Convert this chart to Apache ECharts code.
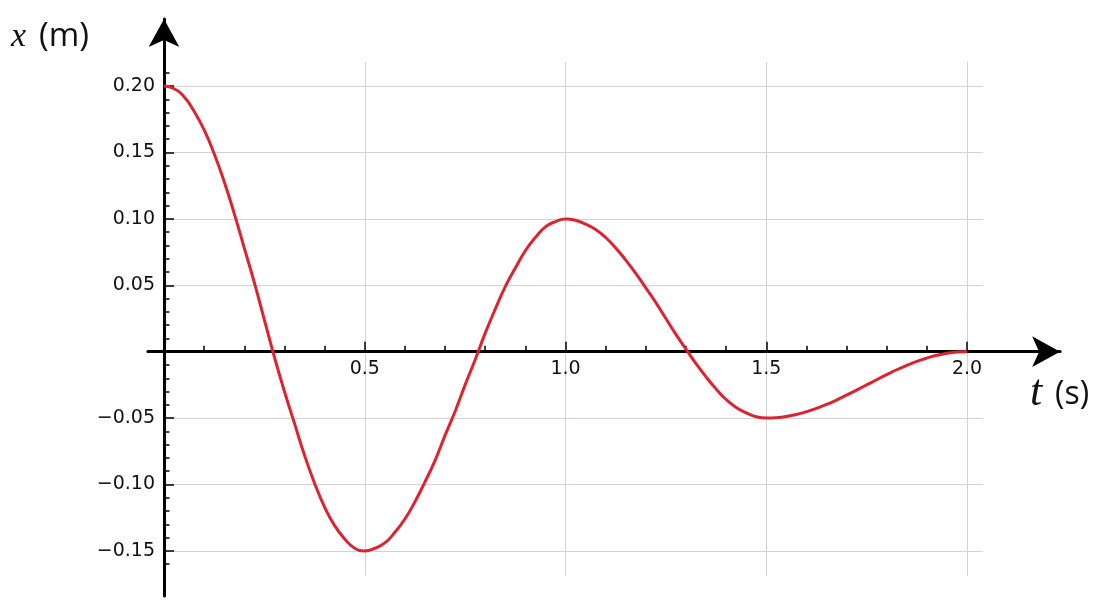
<!DOCTYPE html>
<html>
<head>
<meta charset="utf-8">
<title>x(t)</title>
<script src="https://cdn.jsdelivr.net/npm/echarts@6.0.0/dist/echarts.min.js"></script>
<style>
  html, body { margin: 0; padding: 0; background: #fff; }
  #myChart { width: 1105px; height: 608px; }
</style>
</head>
<body>
<div id="myChart"></div>
<script>
// time (s) and position (m), every 0.025 s
var times = [0, 0.025, 0.05, 0.075, 0.1, 0.125, 0.15, 0.175, 0.2, 0.225,
             0.25, 0.275, 0.3, 0.325, 0.35, 0.375, 0.4, 0.425, 0.45, 0.475,
             0.5, 0.525, 0.55, 0.575, 0.6, 0.625, 0.65, 0.675, 0.7, 0.725,
             0.75, 0.775, 0.8, 0.825, 0.85, 0.875, 0.9, 0.925, 0.95, 0.975,
             1.0, 1.025, 1.05, 1.075, 1.1, 1.125, 1.15, 1.175, 1.2, 1.225,
             1.25, 1.275, 1.3, 1.325, 1.35, 1.375, 1.4, 1.425, 1.45, 1.475,
             1.5, 1.525, 1.55, 1.575, 1.6, 1.625, 1.65, 1.675, 1.7, 1.725,
             1.75, 1.775, 1.8, 1.825, 1.85, 1.875, 1.9, 1.925, 1.95, 1.975, 2.0];
var position = [0.200, 0.198, 0.192, 0.181, 0.167, 0.149, 0.128, 0.104, 0.078, 0.052,
                0.024, -0.004, -0.030, -0.054, -0.078, -0.099, -0.117, -0.131, -0.141, -0.148,
                -0.150, -0.148, -0.144, -0.136, -0.126, -0.113, -0.098, -0.082, -0.063, -0.045,
                -0.025, -0.006, 0.014, 0.032, 0.049, 0.063, 0.076, 0.086, 0.094, 0.098,
                0.100, 0.099, 0.096, 0.092, 0.086, 0.078, 0.069, 0.059, 0.048, 0.037,
                0.025, 0.013, 0.002, -0.009, -0.019, -0.028, -0.036, -0.042, -0.046, -0.049,
                -0.050, -0.0497, -0.0488, -0.0473, -0.0452, -0.0427, -0.0397, -0.0364, -0.0327, -0.0289,
                -0.025, -0.0211, -0.0173, -0.0136, -0.0103, -0.0073, -0.0048, -0.0027, -0.0012, -0.0003, 0.000];

var tRange = [0, 2.0];           // labelled time range
var xRange = [-0.15, 0.20];      // labelled position range
var tInterval = 0.5;
var xInterval = 0.05;

// pixel scale shared by every grid: where t=0 / x=0 sit and px per unit
var X0 = 164, XS = 401.5, Y0 = 351.7, YS = 1328;
function box(t0, t1, x0, x1) {
  return {
    left: X0 + t0 * XS, width: (t1 - t0) * XS,
    top: Y0 - x1 * YS, height: (x1 - x0) * YS,
    containLabel: false, outerBoundsMode: 'none'
  };
}

var BLACK = '#000';
var GRIDC = '#d2d2d2';
var labelFont = { color: '#111', fontSize: 19, fontFamily: 'DejaVu Sans' };

function fmtT(v) { return v === 0 ? '' : v.toFixed(1); }
function fmtX(v) {
  if (Math.abs(v) < 1e-9) return '';
  return (v < 0 ? '\u2212' : '') + Math.abs(v).toFixed(2);
}

var hidden = { show: false };

var option = {
  animation: false,
  backgroundColor: '#fff',
  grid: [
    box(0, 2.0, -0.15, 0.20),         // 0: curve + y ticks/labels
    box(0, 2.04, -0.15, 0.20),        // 1: horizontal grid lines
    box(0, 2.0, -0.169, 0.218),       // 2: vertical grid lines
    box(0, 2.0, -0.16, 0.21),         // 3: minor ticks on the x (m) axis
    box(-0.04, 2.232, -0.184, 0.2505), // 4: axis lines with arrows
    box(0, 2.0, 0, 0.20)              // 5: t ticks/labels, bottom edge on x = 0
  ],
  xAxis: [
    { gridIndex: 0, type: 'value', min: tRange[0], max: tRange[1], show: false },
    { gridIndex: 1, type: 'value', min: 0, max: 2.04, show: false },
    {
      gridIndex: 2, type: 'value', min: tRange[0], max: tRange[1], interval: tInterval, z: 0,
      axisLine: hidden, axisTick: hidden, axisLabel: hidden,
      splitLine: { show: true, lineStyle: { color: GRIDC, width: 1 } }
    },
    { gridIndex: 3, type: 'value', min: tRange[0], max: tRange[1], show: false },
    {
      gridIndex: 4, type: 'value', min: -0.04, max: 2.232, z: 2,
      axisLine: {
        show: true, onZero: true, symbol: ['none', 'arrow'], symbolSize: [23, 28],
        lineStyle: { color: BLACK, width: 3 }
      },
      axisTick: hidden, axisLabel: hidden, splitLine: hidden
    },
    {
      gridIndex: 5, type: 'value', position: 'bottom', min: tRange[0], max: tRange[1], interval: tInterval, z: 3,
      axisLine: { show: false, onZero: false },
      axisTick: { show: true, inside: true, length: 10, lineStyle: { color: BLACK, width: 1.5 } },
      minorTick: { show: true, splitNumber: 5, length: 6, lineStyle: { color: BLACK, width: 1.5 } },
      axisLabel: Object.assign({ margin: 8, formatter: fmtT }, labelFont),
      splitLine: hidden
    }
  ],
  yAxis: [
    {
      gridIndex: 0, type: 'value', min: xRange[0], max: xRange[1], interval: xInterval, z: 3,
      axisLine: { show: false, onZero: false },
      axisTick: { show: true, inside: true, length: 10, lineStyle: { color: BLACK, width: 1.5 } },
      axisLabel: Object.assign({ margin: 9, formatter: fmtX }, labelFont),
      splitLine: hidden
    },
    {
      gridIndex: 1, type: 'value', min: xRange[0], max: xRange[1], interval: xInterval, z: 0,
      axisLine: hidden, axisTick: hidden, axisLabel: hidden,
      splitLine: { show: true, showMinLine: true, showMaxLine: true, lineStyle: { color: GRIDC, width: 1 } }
    },
    { gridIndex: 2, type: 'value', min: -0.169, max: 0.218, show: false },
    {
      gridIndex: 3, type: 'value', min: -0.16, max: 0.21, interval: 0.01, z: 3,
      axisLine: { show: false, onZero: false },
      axisTick: { show: true, inside: true, length: 5.5, lineStyle: { color: BLACK, width: 1.5 } },
      axisLabel: hidden, splitLine: hidden
    },
    {
      gridIndex: 4, type: 'value', min: -0.184, max: 0.2505, z: 2,
      axisLine: {
        show: true, onZero: true, symbol: ['none', 'arrow'], symbolSize: [23, 28],
        lineStyle: { color: BLACK, width: 3 }
      },
      axisTick: hidden, axisLabel: hidden, splitLine: hidden
    },
    { gridIndex: 5, type: 'value', min: 0, max: 0.20, show: false }
  ],
  graphic: [
    { type: 'text', x: 11, y: 37, style: { text: 'x', font: 'italic 34px "Liberation Serif"', fill: '#111', textVerticalAlign: 'middle' } },
    { type: 'text', x: 39, y: 37, style: { text: '(m)', font: '33px "Open Sans"', fill: '#111', textVerticalAlign: 'middle' } },
    { type: 'text', x: 1030, y: 393, style: { text: 't', font: 'italic 44px "Liberation Serif"', fill: '#111', textVerticalAlign: 'middle' } },
    { type: 'text', x: 1055, y: 395, style: { text: '(s)', font: '32px "Open Sans"', fill: '#111', textVerticalAlign: 'middle' } }
  ],
  series: [
    {
      name: 'x(t)',
      type: 'line',
      xAxisIndex: 0,
      yAxisIndex: 0,
      z: 10,
      clip: false,
      smooth: 0.5,
      showSymbol: false,
      lineStyle: { color: '#dc2330', width: 3 },
      data: times.map(function (t, i) { return [t, position[i]]; })
    }
  ]
};

var myChart = echarts.init(document.getElementById('myChart'));
myChart.setOption(option);

window.addEventListener('resize', function () {
  myChart.resize();
});
</script>
</body>
</html>
